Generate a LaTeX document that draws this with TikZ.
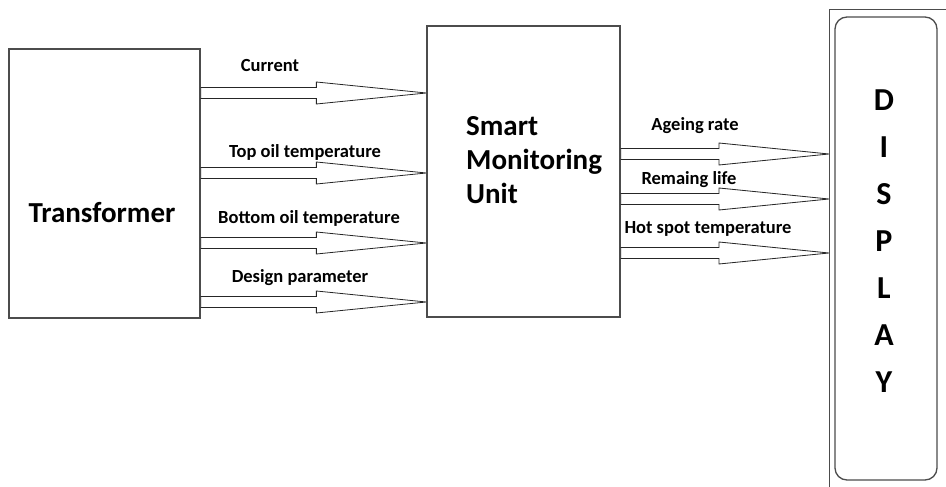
\documentclass[tikz,border=0pt]{standalone}
\usepackage{fontspec}
\setmainfont{Carlito}
\usepackage{tikz}
\usetikzlibrary{calc}
% hollow block arrow: start node, end node, row (y)
\newcommand{\flowarrow}[3]{%
  \draw[fat] let \p1=(#1), \p2=(#2), \p3=(0,#3) in
    (\x1,\y3+5.5pt) -- (\x2-110pt,\y3+5.5pt) -- (\x2-110pt,\y3+11pt) -- (\x2,\y3)
    -- (\x2-110pt,\y3-11pt) -- (\x2-110pt,\y3-5.5pt) -- (\x1,\y3-5.5pt) -- cycle;}

\begin{document}
\begin{tikzpicture}[
    x=1pt,y=-1pt,
    box/.style={draw=black!70,line width=1.3pt,inner sep=0pt},
    fat/.style={draw=black!85,line width=0.8pt,fill=white},
    lbl/.style={font=\fontsize{18.5}{22}\selectfont\bfseries,inner sep=0pt},
    big/.style={font=\fontsize{29}{34}\selectfont\bfseries,inner sep=0pt}
  ]
    \useasboundingbox (0,0) rectangle (946,487);
    \clip (0,0) rectangle (946,487);
    \node[box,minimum width=191pt,minimum height=269pt] (trans) at (104.5,183.5) {};
    \node[big,anchor=base] (transtext) at (102,222) {Transformer};
    \node[box,minimum width=193pt,minimum height=291pt] (smu) at (523.5,171.5) {};
    \node[big,align=left,anchor=base west] (smutext) at (466,203) {Smart\\Monitoring\\Unit};
    \node[box,anchor=north west,minimum width=150pt,minimum height=520pt] (frame) at (829,9) {};
    \node[box,rounded corners=12pt,minimum width=102pt,minimum height=463pt] (disp) at (886,248.5) {};
    \node[font=\fontsize{32}{47}\selectfont\bfseries,align=center,inner sep=0pt] (disptext) at (884,241.5) {D\\I\\S\\P\\L\\A\\Y};
    % inputs
    \flowarrow{trans.east}{smu.west}{93}
    \flowarrow{trans.east}{smu.west}{173}
    \flowarrow{trans.east}{smu.west}{243}
    \flowarrow{trans.east}{smu.west}{302}
    \node[lbl] (current) at (270,66) {Current};
    \node[lbl] (topoil) at (305,152) {Top oil temperature};
    \node[lbl] (botoil) at (309,218) {Bottom oil temperature};
    \node[lbl] (design) at (300,278) {Design parameter};
    % outputs
    \flowarrow{smu.east}{frame.west}{154}
    \flowarrow{smu.east}{frame.west}{199}
    \flowarrow{smu.east}{frame.west}{253}
    \node[lbl] (ageing) at (695,126) {Ageing rate};
    \node[lbl] (life) at (689,180) {Remaing life};
    \node[lbl] (hotspot) at (708,229) {Hot spot temperature};
  \end{tikzpicture}
\end{document}
